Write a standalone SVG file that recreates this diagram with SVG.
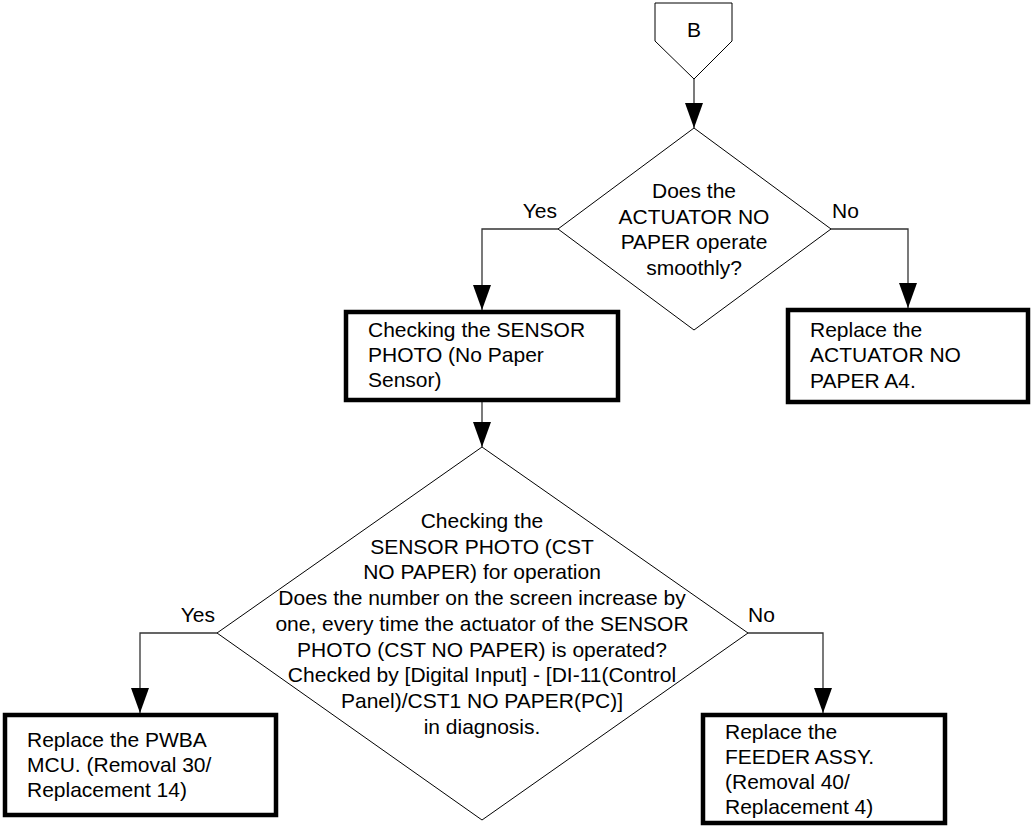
<svg xmlns="http://www.w3.org/2000/svg" width="1032" height="827" viewBox="0 0 1032 827">
<defs>
<marker id="arr" viewBox="0 0 25 18" refX="25" refY="9" markerWidth="25" markerHeight="18" markerUnits="userSpaceOnUse" orient="auto">
<path d="M0,0 L25,9 L0,18 z" fill="#000"/>
</marker>
<style>
.t{font-family:"Liberation Sans",Arial,sans-serif;font-size:21px;fill:#000}
.c{text-anchor:middle}
.box{fill:#fff;stroke:#000;stroke-width:4.5}
.dia{fill:#fff;stroke:#000;stroke-width:1}
.con{fill:none;stroke:#333;stroke-width:1.3;marker-end:url(#arr)}
</style>
</defs>
<rect width="1032" height="827" fill="#fff"/>
<g id="connectors">
<path class="con" d="M694,79 V128"/>
<path class="con" d="M558,229 H482 V310"/>
<path class="con" d="M831,229 H908 V308"/>
<path class="con" d="M482,402 V447"/>
<path class="con" d="M217,633 H140 V713"/>
<path class="con" d="M748,633 H823 V713"/>
<text class="t" x="557" y="218" text-anchor="end">Yes</text>
<text class="t" x="832" y="218">No</text>
<text class="t" x="215" y="622" text-anchor="end">Yes</text>
<text class="t" x="748" y="622">No</text>
</g>
<g id="start-B">
<polygon class="dia" points="655,3 732,3 732,41 694,79 655,41"/>
<text class="t c" x="694" y="37">B</text>
</g>
<g id="decision-actuator">
<polygon class="dia" points="694,128 831,229 694,330 558,229"/>
<text class="t c" x="694" y="198">Does the</text>
<text class="t c" x="694" y="223.7">ACTUATOR NO</text>
<text class="t c" x="694" y="249.4">PAPER operate</text>
<text class="t c" x="694" y="275">smoothly?</text>
</g>
<g id="check-sensor">
<rect class="box" x="346" y="312" width="272" height="88"/>
<text class="t" x="368" y="337">Checking the SENSOR</text>
<text class="t" x="368" y="362">PHOTO (No Paper</text>
<text class="t" x="368" y="387">Sensor)</text>
</g>
<g id="replace-actuator">
<rect class="box" x="788" y="310" width="240" height="92"/>
<text class="t" x="810" y="337">Replace the</text>
<text class="t" x="810" y="362">ACTUATOR NO</text>
<text class="t" x="810" y="388">PAPER A4.</text>
</g>
<g id="decision-sensor">
<polygon class="dia" points="482,447 748,633 482,820 217,633"/>
<text class="t c" x="482" y="528">Checking the</text>
<text class="t c" x="482" y="553.7">SENSOR PHOTO (CST</text>
<text class="t c" x="482" y="579.4">NO PAPER) for operation</text>
<text class="t c" x="482" y="605">Does the number on the screen increase by</text>
<text class="t c" x="482" y="630.8">one, every time the actuator of the SENSOR</text>
<text class="t c" x="482" y="656.5">PHOTO (CST NO PAPER) is operated?</text>
<text class="t c" x="482" y="682">Checked by [Digital Input] - [DI-11(Control</text>
<text class="t c" x="482" y="708">Panel)/CST1 NO PAPER(PC)]</text>
<text class="t c" x="482" y="733.6">in diagnosis.</text>
</g>
<g id="replace-pwba">
<rect class="box" x="5" y="715" width="271" height="100"/>
<text class="t" x="27" y="747">Replace the PWBA</text>
<text class="t" x="27" y="772">MCU. (Removal 30/</text>
<text class="t" x="27" y="797">Replacement 14)</text>
</g>
<g id="replace-feeder">
<rect class="box" x="703" y="715" width="242" height="108"/>
<text class="t" x="725" y="739">Replace the</text>
<text class="t" x="725" y="764">FEEDER ASSY.</text>
<text class="t" x="725" y="789">(Removal 40/</text>
<text class="t" x="725" y="814">Replacement 4)</text>
</g>
</svg>
